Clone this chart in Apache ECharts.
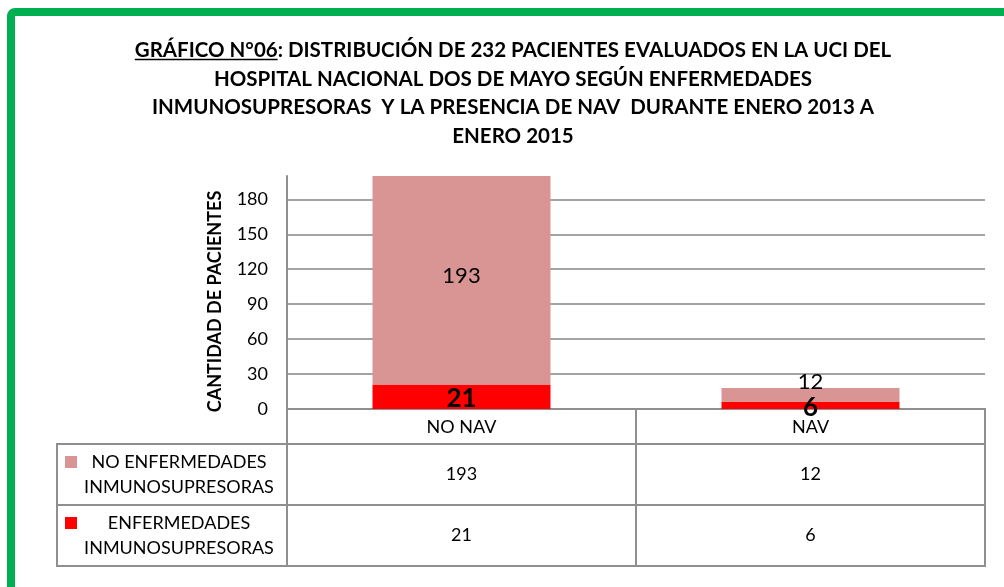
<!DOCTYPE html>
<html><head><meta charset="utf-8">
<script src="https://cdn.jsdelivr.net/npm/echarts@6/dist/echarts.min.js"></script>
<style>html,body{margin:0;padding:0;background:#fff}#c{width:1004px;height:587px}</style>
</head><body><div id="c"></div>
<script>
// ---- data ----
const titleLines = [
  'GRÁFICO N°06: DISTRIBUCIÓN DE 232 PACIENTES EVALUADOS EN LA UCI DEL',
  'HOSPITAL NACIONAL DOS DE MAYO SEGÚN ENFERMEDADES',
  'INMUNOSUPRESORAS  Y LA PRESENCIA DE NAV  DURANTE ENERO 2013 A',
  'ENERO 2015'
];
const underlinedPart = 'GRÁFICO N°06';
const categories = ['NO NAV', 'NAV'];
const seriesNames = ['NO ENFERMEDADES INMUNOSUPRESORAS', 'ENFERMEDADES INMUNOSUPRESORAS'];
const legendLines = [['NO ENFERMEDADES', 'INMUNOSUPRESORAS'], ['ENFERMEDADES', 'INMUNOSUPRESORAS']];
const noEnfValues = [193, 12];
const enfValues = [21, 6];
const yAxisName = 'CANTIDAD DE PACIENTES';
const yInterval = 30;
const yMax = 200;

// ---- styles ----
const PINK = '#D99594', RED = '#FF0000', GREEN = '#00B050';
const GREY = '#8f8f8f', GRIDGREY = '#a3a3a3';
const FONT = 'Lato';
const HEADER_H = 35, LEGEND_W = 230;
const TITLE_FONT = 'bold 20.5px ' + FONT;
const TITLE_CX = 513, TITLE_Y = [50, 79, 107.5, 136];

const tableRows = [noEnfValues, enfValues];
const rowColors = [PINK, RED];

const meas = document.createElement('canvas').getContext('2d');
meas.font = TITLE_FONT;
const wLine1 = meas.measureText(titleLines[0]).width;
const wUnder = meas.measureText(underlinedPart).width;

const chart = echarts.init(document.getElementById('c'), null, {renderer: 'canvas'});

const graphics = [
  {type: 'rect', z: -10, shape: {x: 11, y: 12, width: 1200, height: 800, r: 4},
   style: {fill: 'none', stroke: GREEN, lineWidth: 8}}
];
titleLines.forEach((t, i) => {
  graphics.push({type: 'text', x: TITLE_CX, y: TITLE_Y[i],
    style: {text: t, align: 'center', verticalAlign: 'middle', font: TITLE_FONT, fill: '#000'}});
});
graphics.push({type: 'line', shape: {x1: TITLE_CX - wLine1 / 2, y1: 59.5, x2: TITLE_CX - wLine1 / 2 + wUnder, y2: 59.5},
  style: {stroke: '#000', lineWidth: 1.5}});

const cellData = [];
tableRows.forEach((row, r) => row.forEach((v, c) => cellData.push([c, r, v])));
const legendData = seriesNames.map((n, r) => [0, r]);

function renderCell(params, api) {
  const c = api.value(0), r = api.value(1);
  const p = api.coord([c, r]);
  const s = api.size([1, 1]);
  const x = p[0] - s[0] / 2, y = p[1] - s[1] / 2;
  const ch = [
    {type: 'rect', shape: {x: x, y: y, width: s[0], height: s[1]}, style: {fill: 'none', stroke: GREY, lineWidth: 2}},
    {type: 'text', style: {x: p[0], y: p[1], text: String(api.value(2)), align: 'center', verticalAlign: 'middle',
      font: '18px ' + FONT, fill: '#000'}}
  ];
  if (r === 0) ch.push({type: 'rect', shape: {x: x, y: y - HEADER_H, width: s[0], height: HEADER_H},
    style: {fill: 'none', stroke: GREY, lineWidth: 2}});
  return {type: 'group', children: ch};
}
function renderLegend(params, api) {
  const r = api.value(1);
  const p = api.coord([0, r]);
  const s = api.size([1, 1]);
  const cs = params.coordSys;
  const x0 = cs.x - LEGEND_W, y = p[1] - s[1] / 2;
  const lines = legendLines[r];
  return {type: 'group', children: [
    {type: 'rect', shape: {x: x0, y: y, width: LEGEND_W, height: s[1]}, style: {fill: 'none', stroke: GREY, lineWidth: 2}},
    {type: 'rect', shape: {x: x0 + 8, y: p[1] - 12.5 - 6, width: 12, height: 12}, style: {fill: rowColors[r]}},
    {type: 'text', style: {x: x0 + 122, y: p[1] - 12.5, text: lines[0], align: 'center', verticalAlign: 'middle', font: '18px ' + FONT, fill: '#000'}},
    {type: 'text', style: {x: x0 + 122, y: p[1] + 12.5, text: lines[1], align: 'center', verticalAlign: 'middle', font: '18px ' + FONT, fill: '#000'}}
  ]};
}

const option = {
  backgroundColor: '#fff',
  animation: false,
  textStyle: {fontFamily: FONT},
  graphic: graphics,
  grid: [
    {left: 287, right: 19, top: 176, bottom: 178, containLabel: false},
    {left: 287, right: 19, top: 444, bottom: 21, containLabel: false}
  ],
  xAxis: [
    {type: 'category', gridIndex: 0, data: categories,
     axisLine: {show: true, lineStyle: {color: GREY, width: 2}}, axisTick: {show: false},
     axisLabel: {color: '#000', fontSize: 18, fontFamily: FONT, margin: 8, lineHeight: 20}},
    {type: 'category', gridIndex: 1, data: categories, show: false}
  ],
  yAxis: [
    {type: 'value', gridIndex: 0, min: 0, max: yMax, interval: yInterval,
     name: yAxisName, nameLocation: 'middle', nameGap: 63, nameRotate: 90,
     nameTextStyle: {color: '#000', fontWeight: 'bold', fontSize: 18, fontFamily: FONT, padding: [0, 18, 0, 0]},
     axisLine: {show: true, lineStyle: {color: GREY, width: 2}}, axisTick: {show: false},
     axisLabel: {color: '#000', fontSize: 18, fontFamily: FONT, margin: 19, showMaxLabel: false},
     splitLine: {show: true, showMaxLine: false, lineStyle: {color: GRIDGREY, width: 2}}},
    {type: 'category', gridIndex: 1, data: seriesNames, inverse: true, show: false}
  ],
  series: [
    {name: seriesNames[1], type: 'bar', stack: 'total', xAxisIndex: 0, yAxisIndex: 0,
     barWidth: '51%', itemStyle: {color: RED}, data: enfValues,
     label: {show: true, position: 'inside', color: '#000', fontWeight: 'bold', fontSize: 26, fontFamily: FONT, offset: [0, 2]}},
    {name: seriesNames[0], type: 'bar', stack: 'total', xAxisIndex: 0, yAxisIndex: 0,
     barWidth: '51%', itemStyle: {color: PINK}, clip: true,
     data: noEnfValues.map((v, i) => i === 1 ? {value: v, label: {position: 'top', distance: -5, offset: [0, 0]}} : v),
     label: {show: true, position: 'inside', color: '#000', fontSize: 22, fontFamily: FONT, offset: [0, -4]}},
    {name: 'tabla', type: 'custom', xAxisIndex: 1, yAxisIndex: 1, renderItem: renderCell, data: cellData, silent: true},
    {name: 'leyenda', type: 'custom', xAxisIndex: 1, yAxisIndex: 1, renderItem: renderLegend, data: legendData, silent: true}
  ]
};
chart.setOption(option);
</script>
</body></html>
